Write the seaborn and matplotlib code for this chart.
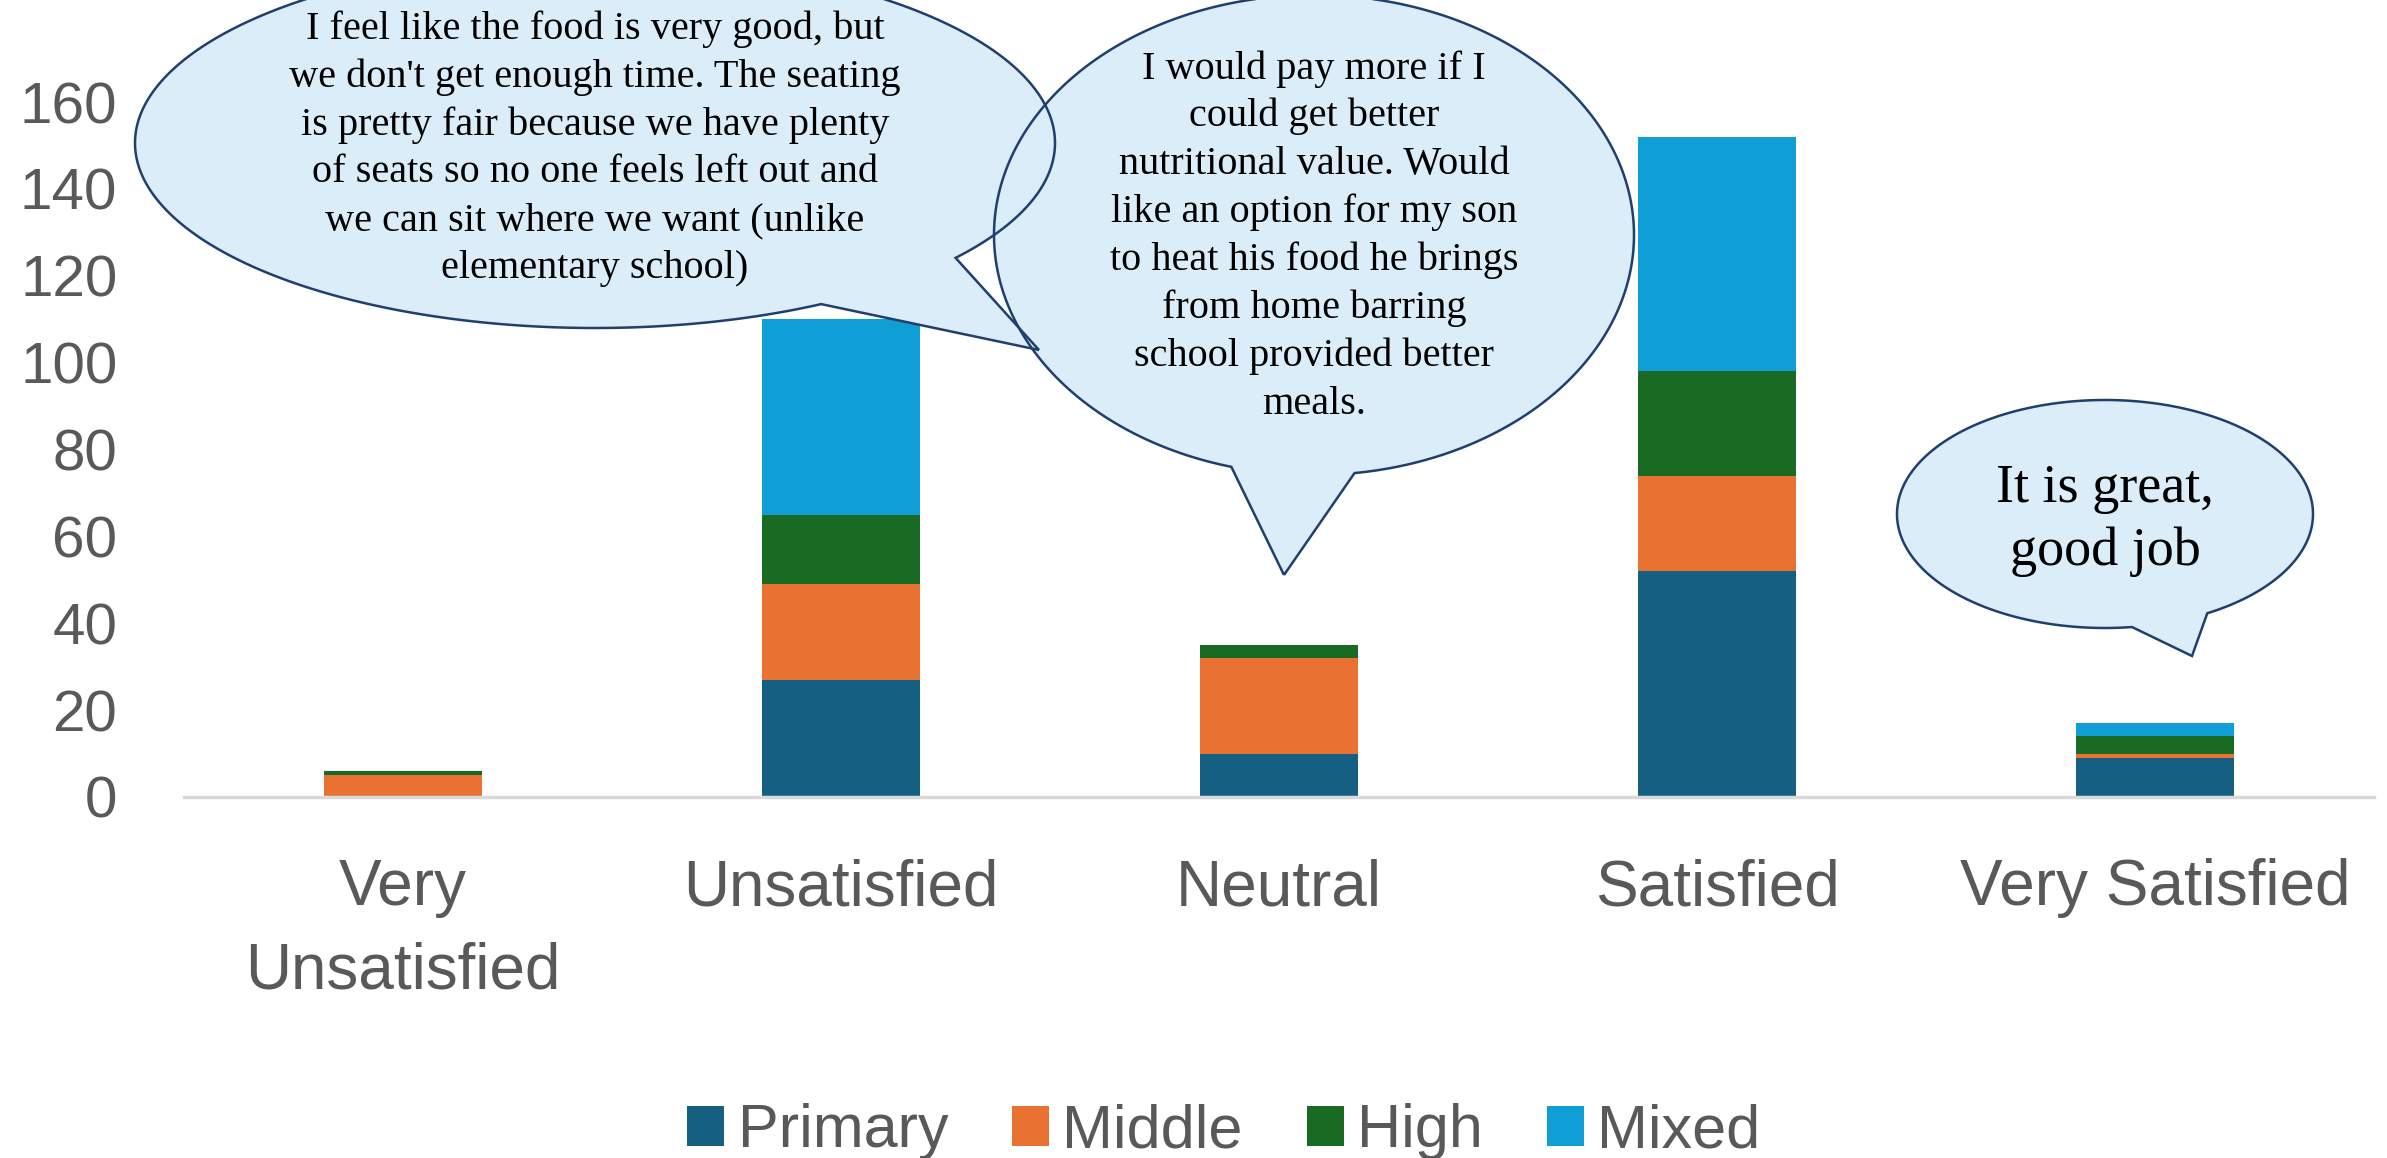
import numpy as np
import pandas as pd
import seaborn as sns
import matplotlib
matplotlib.use("Agg")
import matplotlib.pyplot as plt
from matplotlib.patches import Polygon, Patch

# ---- data -------------------------------------------------------------
categories = ["Very\nUnsatisfied", "Unsatisfied", "Neutral", "Satisfied", "Very Satisfied"]
series_names = ["Primary", "Middle", "High", "Mixed"]
primary = [0, 27, 10, 52, 9]
middle = [5, 22, 22, 22, 1]
high = [1, 16, 3, 24, 4]
mixed = [0, 45, 0, 54, 3]
series_colors = ["#156082", "#E97132", "#196B24", "#0F9ED5"]
y_ticks = [0, 20, 40, 60, 80, 100, 120, 140, 160]

comment_food = ["I feel like the food is very good, but",
                "we don't get enough time. The seating",
                "is pretty fair because we have plenty",
                "of seats so no one feels left out and",
                "we can sit where we want (unlike",
                "elementary school)"]
comment_pay = ["I would pay more if I",
               "could get better",
               "nutritional value. Would",
               "like an option for my son",
               "to heat his food he brings",
               "from home barring",
               "school provided better",
               "meals."]
comment_great = ["It is great,", "good job"]

# ---- figure -----------------------------------------------------------
W, H = 2387, 1158
sns.set_theme(style="white")
plt.rcParams["font.family"] = ["Liberation Sans", "DejaVu Sans"]

fig = plt.figure(figsize=(W / 100, H / 100), dpi=100)
fig.patch.set_facecolor("white")
ax = fig.add_axes([184 / W, 1 - 797 / H, 2190 / W, 695 / H])

df = pd.DataFrame({"category": categories, "Primary": primary, "Middle": middle,
                   "High": high, "Mixed": mixed})
stack = df[series_names].cumsum(axis=1)

# stacked bars: draw cumulative totals from the top layer down
for name, col in reversed(list(zip(series_names, series_colors))):
    sns.barplot(x=df["category"], y=stack[name], order=categories, color=col,
                saturation=1, width=0.36, linewidth=0, errorbar=None, ax=ax)

ax.set_xlim(-0.5, 4.5)
ax.set_ylim(0, 160)
ax.set_yticks(y_ticks)
ax.set_xlabel("")
ax.set_ylabel("")
for s in ["left", "right", "top"]:
    ax.spines[s].set_visible(False)
ax.spines["bottom"].set_color("#D9D9D9")
ax.spines["bottom"].set_linewidth(2.5)
ax.tick_params(axis="y", length=0, pad=48, labelsize=42, labelcolor="#595959")
ax.tick_params(axis="x", length=0, pad=44, labelsize=46, labelcolor="#595959")
for lab in ax.get_xticklabels():
    lab.set_linespacing(1.5)
ax.grid(False)

# legend
handles = [Patch(facecolor=c, edgecolor="none") for c in series_colors]
fig.legend(handles, series_names, loc="center", bbox_to_anchor=(1224 / W, 1 - 1132 / H),
           ncol=4, frameon=False, fontsize=44, handlelength=0.6, handleheight=0.65,
           handletextpad=0.22, columnspacing=1.05, borderpad=0, labelcolor="#595959")


# ---- speech bubbles (pixel coordinates, y measured downward) ----------
def fxy(x, y):
    return (x / W, 1 - y / H)


def bubble_outline(cx, cy, a, b, base1, base2, tip, n=400):
    t1 = np.arctan2((base1[1] - cy) / b, (base1[0] - cx) / a)
    t2 = np.arctan2((base2[1] - cy) / b, (base2[0] - cx) / a)
    d = (t2 - t1) % (2 * np.pi)
    if d > np.pi:
        ts = np.linspace(t1, t1 + d, n)
    else:
        ts = np.linspace(t1, t1 - (2 * np.pi - d), n)
    pts = [fxy(*tip)]
    pts += [fxy(cx + a * np.cos(t), cy + b * np.sin(t)) for t in ts]
    pts.append(fxy(*tip))
    return np.array(pts)


bubbles = [
    bubble_outline(595, 143, 460, 185, (956, 258), (821, 304), (1039, 350)),
    bubble_outline(1314, 235, 320, 240, (1232, 465), (1354, 470), (1284, 575)),
    bubble_outline(2105, 514, 208, 114, (2132, 627), (2207, 613), (2192, 656)),
]
fill = "#DAEDF8"
edge = "#203F6E"
for pts in bubbles:
    fig.add_artist(Polygon(pts, closed=True, facecolor=fill, edgecolor="none",
                           transform=fig.transFigure, zorder=5))
for pts in bubbles:
    fig.add_artist(Polygon(pts, closed=True, facecolor="none", edgecolor=edge,
                           linewidth=1.8, transform=fig.transFigure, zorder=6))

serif = ["Liberation Serif", "DejaVu Serif"]


def bubble_text(lines, cx, first_baseline, step, size):
    for i, line in enumerate(lines):
        x, y = fxy(cx, first_baseline + i * step)
        fig.text(x, y, line, ha="center", va="baseline", fontsize=size,
                 family=serif, color="black", zorder=7)


bubble_text(comment_food, 595, 39, 47.8, 29)
bubble_text(comment_pay, 1314, 78.5, 47.9, 29)
bubble_text(comment_great, 2105, 502, 63, 39)

fig.savefig("out.png", dpi=100, facecolor="white")
